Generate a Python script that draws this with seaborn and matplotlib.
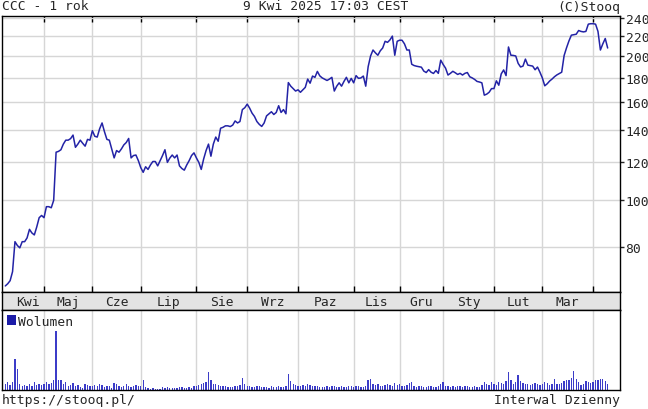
import matplotlib
matplotlib.use('Agg')
import numpy as np
import pandas as pd
import matplotlib.pyplot as plt
import seaborn as sns
from matplotlib.patches import Patch
from matplotlib.ticker import NullLocator

# month labels and trading-day index where each month starts
months = ['Kwi', 'Maj', 'Cze', 'Lip', 'Sie', 'Wrz', 'Paz', 'Lis', 'Gru', 'Sty', 'Lut', 'Mar']
month_starts = [16, 36, 56, 79, 100, 121, 144, 163, 181, 202, 222, 243]
price_ticks = [80, 100, 120, 140, 160, 180, 200, 220, 240]

# daily close (Apr 2024 .. Apr 2025)
close_apr24 = [66.3, 67, 68, 71, 82, 80.5, 79.6, 82, 82, 83.5, 87, 85.5, 84.7, 88, 92, 93]
close_may = [92, 97, 97, 96.5, 100, 126, 126.5, 127.5, 131, 133.5, 133.5, 134.5, 136.8, 129, 131,
             133.5, 131.5, 129.7, 134, 133.5]
close_jun = [139.7, 136, 135.5, 141, 145, 139, 134, 133.5, 128, 122.6, 127, 126, 128, 130.5, 132,
             134.6, 122.6, 124, 124.3, 121]
close_jul = [117, 114.4, 117.5, 116, 118.5, 120.5, 120.5, 118, 121, 124, 127.5, 120, 122.5, 124.3,
             122.6, 124.3, 118, 116.5, 115.6, 118.5, 121, 124, 125.6]
close_aug = [122.6, 120, 116, 122, 127, 131, 123.6, 131, 135.5, 132.8, 141.4, 142, 143, 143, 142.5,
             143.5, 146.4, 145, 146, 154.6, 156]
close_sep = [158.7, 155.7, 152, 149.6, 146, 144, 142.6, 145, 150, 151.5, 153, 151, 152.5, 157.5,
             152.5, 154.6, 151.5, 176, 173, 171, 169]
close_oct = [170, 168, 170, 172, 179, 175.5, 181.6, 180.5, 185.7, 181.8, 180, 178.9, 177.8, 179,
             180.5, 169, 173, 175.8, 173, 177, 180.5, 175.8, 179.6]
close_nov = [175.8, 182, 179.6, 180, 181.6, 173, 190, 200, 205.8, 203, 200.7, 205, 207.8, 214.6,
             213.5, 216, 220, 200.7, 214.6]
close_dec = [215.7, 215.7, 212, 205.8, 205.8, 192.2, 191, 190.4, 190, 189.5, 186, 184.7, 187.3, 185,
             183.9, 186.5, 184, 196]
close_jan = [192, 188.6, 182.5, 184, 185.8, 184.5, 183, 184, 182.5, 184, 184.7, 181, 180, 178.7,
             177, 176.5, 175.8, 165.7, 166.5, 168, 171]
close_feb = [171, 177.5, 173.8, 183.5, 187, 182, 208.8, 200.7, 200.5, 200, 193, 189.7, 190.5, 197,
             191.4, 191, 190.5, 187.2, 189.6, 185]
close_mar = [180, 173.3, 175, 177.3, 179, 181, 182.6, 183.8, 185, 200.4, 208, 215, 221, 221.5, 222,
             226, 225, 224.5, 225, 233, 233.5]
close_apr25 = [233.5, 233, 225, 205.8, 212, 217.5, 207.8]

# daily volume (thousands)
vol_apr24 = [300, 380, 260, 420, 1570, 1060, 300, 180, 250, 200, 320, 180, 380, 260, 300, 240]
vol_may = [280, 420, 300, 350, 480, 2940, 520, 500, 300, 380, 200, 260, 350, 180, 260, 140, 100,
           320, 260, 220]
vol_jun = [180, 240, 200, 300, 260, 150, 180, 200, 120, 340, 280, 200, 160, 180, 300, 200, 140,
           220, 250, 180]
vol_jul = [200, 480, 150, 80, 60, 90, 50, 70, 60, 140, 120, 160, 100, 90, 120, 110, 150, 130, 90,
           110, 140, 120, 200]
vol_aug = [180, 250, 320, 350, 400, 910, 500, 300, 280, 260, 220, 200, 180, 160, 160, 170, 200,
           220, 250, 610, 300]
vol_sep = [220, 180, 160, 140, 200, 180, 160, 150, 130, 120, 180, 160, 150, 200, 170, 150, 180,
           810, 450, 300, 250]
vol_oct = [220, 180, 260, 200, 300, 250, 200, 180, 220, 170, 150, 160, 200, 140, 180, 220, 160,
           150, 200, 170, 160, 180, 200]
vol_nov = [150, 180, 200, 160, 140, 200, 520, 560, 300, 250, 280, 220, 200, 260, 300, 240, 220,
           330, 250]
vol_dec = [300, 220, 180, 250, 330, 400, 220, 150, 180, 200, 170, 150, 220, 180, 130, 160, 200, 320]
vol_jan = [400, 180, 220, 160, 200, 150, 180, 200, 160, 220, 180, 150, 170, 200, 160, 150, 250,
           420, 300, 250, 380]
vol_feb = [300, 250, 420, 350, 300, 450, 910, 500, 300, 380, 760, 450, 350, 300, 280, 250, 300,
           330, 280, 250]
vol_mar = [300, 420, 350, 250, 300, 560, 300, 280, 350, 450, 500, 480, 620, 960, 550, 420, 250,
           300, 450, 400, 350]
vol_apr25 = [400, 480, 520, 560, 540, 450, 300]

close = (close_apr24 + close_may + close_jun + close_jul + close_aug + close_sep + close_oct
         + close_nov + close_dec + close_jan + close_feb + close_mar + close_apr25)
volume = (vol_apr24 + vol_may + vol_jun + vol_jul + vol_aug + vol_sep + vol_oct
          + vol_nov + vol_dec + vol_jan + vol_feb + vol_mar + vol_apr25)

df = pd.DataFrame({'day': np.arange(len(close)), 'close': close, 'volume': volume})

sns.set_style('white')
plt.rcParams['font.family'] = ['DejaVu Sans Mono', 'DejaVu Sans']
plt.rcParams['font.size'] = 9.4

W, H = 648, 410
x0, x1 = 2, 620
xlim = (-1.36, 254.1)
grid_col = '#d6d6d6'

fig = plt.figure(figsize=(W / 100, H / 100), dpi=100)
ax = fig.add_axes([x0 / W, 1 - 293 / H, (x1 - x0) / W, 276 / H])
band = fig.add_axes([x0 / W, 1 - 311 / H, (x1 - x0) / W, 18 / H])
axv = fig.add_axes([x0 / W, 1 - 391 / H, (x1 - x0) / W, 80 / H])

# price panel
sns.lineplot(data=df, x='day', y='close', ax=ax, color='#2323a6', linewidth=1.1)
ax.set_yscale('log')
ax.set_ylim(64.4, 242.3)
ax.set_xlim(*xlim)
ax.set_yticks(price_ticks)
ax.set_yticklabels([str(t) for t in price_ticks])
ax.yaxis.set_minor_locator(NullLocator())
ax.yaxis.tick_right()
ax.set_xticks(month_starts)
ax.set_xticklabels([])
ax.tick_params(axis='x', direction='in', top=True, bottom=True, length=4, width=1, color='black')
ax.tick_params(axis='y', direction='out', right=True, left=False, length=3, width=1, pad=1,
               labelsize=9.4)
ax.grid(True, color=grid_col, linewidth=1.0)
ax.set_xlabel('')
ax.set_ylabel('')

# month band
band.set_facecolor('#e3e3e3')
band.set_xlim(*xlim)
band.set_ylim(0, 1)
band.set_xticks([])
band.set_yticks([])
edges = [3] + month_starts
for name, a, b in zip(months, edges[:-1], edges[1:]):
    band.text((a + b) / 2, 0.45, name, ha='center', va='center', fontsize=9.4)

# volume panel
sns.barplot(data=df, x='day', y='volume', ax=axv, native_scale=True, color='#3c3cc8',
            width=0.55, errorbar=None, saturation=1, linewidth=0)
axv.set_xlim(*xlim)
axv.set_ylim(0, 4000)
axv.set_yticks([])
axv.set_xticks(month_starts)
axv.set_xticklabels([])
axv.tick_params(axis='x', length=0)
axv.grid(True, axis='x', color=grid_col, linewidth=1.0)
axv.set_xlabel('')
axv.set_ylabel('')
axv.legend(handles=[Patch(facecolor='#1c1ca8', edgecolor='none', label='Wolumen')],
           loc='upper left', frameon=False, handlelength=0.7, handleheight=0.7,
           handletextpad=0.2, borderaxespad=0.15, borderpad=0.2, fontsize=9.4)

for a in (ax, band, axv):
    for s in a.spines.values():
        s.set_color('black')
        s.set_linewidth(1.0)
        s.set_visible(True)

# header / footer
fig.text(x0 / W, 1 - 7 / H, 'CCC - 1 rok', ha='left', va='center')
fig.text(326 / W, 1 - 7 / H, '9 Kwi 2025 17:03 CEST', ha='center', va='center')
fig.text(x1 / W, 1 - 7 / H, '(C)Stooq', ha='right', va='center')
fig.text(x0 / W, 1 - 401 / H, 'https://stooq.pl/', ha='left', va='center')
fig.text(x1 / W, 1 - 401 / H, 'Interwal Dzienny', ha='right', va='center')

fig.savefig('out.png', dpi=100)
plt.close(fig)
